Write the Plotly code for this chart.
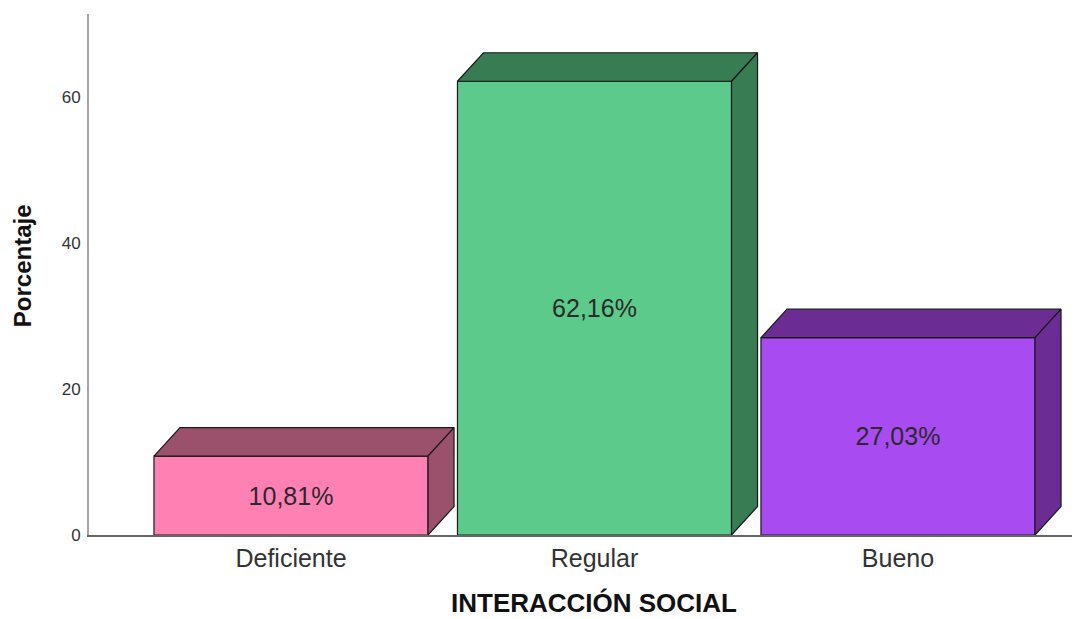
import plotly.graph_objects as go

categories = ["Deficiente", "Regular", "Bueno"]
values = [10.81, 62.16, 27.03]
value_labels = ["10,81%", "62,16%", "27,03%"]
front_colors = ["#FF80B3", "#5CCA8B", "#A84BF1"]
shade_colors = ["#9B506B", "#387C53", "#6B2C94"]
y_tickvals = [0, 20, 40, 60]
y_ticktext = ["0", "20", "40", "60"]

BAR_W = 0.903
DX = 0.0857
DY = 3.9
FONT = "Liberation Sans, Arial, sans-serif"

fig = go.Figure()
xs = list(range(len(categories)))

fig.add_trace(go.Bar(
    x=xs, y=values, width=BAR_W,
    marker=dict(color=front_colors, line=dict(color="#1a1a1a", width=1.2)),
    text=value_labels, textposition="inside", insidetextanchor="middle",
    textfont=dict(size=25, color="#2a2a2a", family=FONT),
    hoverinfo="skip", showlegend=False,
))

for i, v in enumerate(values):
    x0 = xs[i] - BAR_W / 2
    x1 = xs[i] + BAR_W / 2
    # top face
    fig.add_trace(go.Scatter(
        x=[x0, x1, x1 + DX, x0 + DX, x0],
        y=[v, v, v + DY, v + DY, v],
        fill="toself", fillcolor=shade_colors[i], mode="lines",
        line=dict(color="#1a1a1a", width=1.2), hoverinfo="skip", showlegend=False,
    ))
    # side face
    fig.add_trace(go.Scatter(
        x=[x1, x1 + DX, x1 + DX, x1, x1],
        y=[0, DY, v + DY, v, 0],
        fill="toself", fillcolor=shade_colors[i], mode="lines",
        line=dict(color="#1a1a1a", width=1.2), hoverinfo="skip", showlegend=False,
    ))

fig.update_layout(
    width=1072, height=611,
    margin=dict(l=81, r=0, t=6, b=84),
    paper_bgcolor="white", plot_bgcolor="white",
    font=dict(family=FONT, color="#222222"),
    showlegend=False,
    xaxis=dict(
        range=[-0.6656, 2.5997],
        tickvals=xs, ticktext=categories,
        tickfont=dict(size=25, color="#333333"),
        showgrid=False, zeroline=False,
        showline=True, linecolor="#666666", linewidth=1.5,
        ticks="", ticklabelstandoff=0,
    ),
    yaxis=dict(
        range=[0, 71.37],
        tickvals=y_tickvals, ticktext=y_ticktext,
        tickfont=dict(size=17, color="#333333"),
        showgrid=False, zeroline=False,
        showline=True, linecolor="#A6A6A6", linewidth=2,
        ticks="", ticklabelstandoff=3,
    ),
    annotations=[
        dict(
            text="<b>Porcentaje</b>", textangle=-90,
            xref="paper", yref="paper", x=0, y=0.516,
            xanchor="center", yanchor="middle", xshift=-67, showarrow=False,
            font=dict(size=24, color="#111111", family=FONT),
        ),
        dict(
            text="<b>INTERACCIÓN SOCIAL</b>",
            xref="paper", yref="paper", x=0.510, y=0,
            xanchor="center", yanchor="middle", yshift=-68, showarrow=False,
            borderpad=0,
            font=dict(size=26, color="#111111", family=FONT),
        ),
    ],
)

fig.write_html("out.html")
